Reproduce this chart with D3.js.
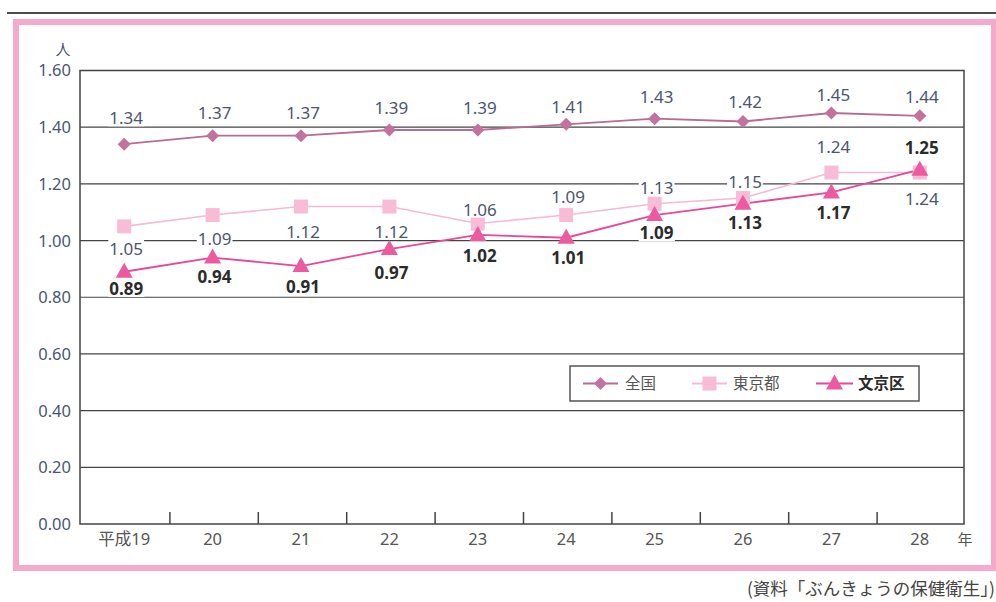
<!DOCTYPE html>
<html><head><meta charset="utf-8">
<script src="https://cdn.jsdelivr.net/npm/d3@7"></script>
<style>
html,body{margin:0;padding:0;background:#fff;}
svg{display:block;font-family:"Noto Sans","Noto Sans CJK JP",sans-serif;}
</style></head>
<body>
<svg id="c" width="996" height="602"></svg>
<script>
const categories = ["平成19","20","21","22","23","24","25","26","27","28"];
const seriesNames = ["全国","東京都","文京区"];
const zenkoku = [1.34,1.37,1.37,1.39,1.39,1.41,1.43,1.42,1.45,1.44];
const tokyo   = [1.05,1.09,1.12,1.12,1.06,1.09,1.13,1.15,1.24,1.24];
const bunkyo  = [0.89,0.94,0.91,0.97,1.02,1.01,1.09,1.13,1.17,1.25];
const yTicks  = [0,0.2,0.4,0.6,0.8,1.0,1.2,1.4,1.6];

// layout: label vertical offsets (px) relative to the point
const labelDy = {
  "全国":  [-26,-23,-23,-22,-22,-17,-22,-20,-18,-19],
  "東京都": [22,24,25,25,-14,-18,-16,-16,-26,26],
  "文京区": [17,19,21,24,21,20,18,19,21,-22]
};

const svg = d3.select("#c");
const L = 80, R = 964, T = 70.5, B = 524;

svg.append("line").attr("x1",7).attr("x2",996).attr("y1",13).attr("y2",13)
  .attr("stroke","#111").attr("stroke-width",1.5);
svg.append("rect").attr("x",16).attr("y",22).attr("width",978).attr("height",546)
  .attr("fill","none").attr("stroke","#f6aacb").attr("stroke-width",6);

const x = d3.scaleBand().domain(categories).range([L,R]).padding(0);
const y = d3.scaleLinear().domain([0,1.6]).range([B,T]);
const cx = d => x(d) + x.bandwidth()/2;

svg.append("g").selectAll("line").data(yTicks.slice(1,-1)).join("line")
  .attr("x1",L).attr("x2",R).attr("y1",d=>y(d)).attr("y2",d=>y(d))
  .attr("stroke","#444").attr("stroke-width",1.2);
svg.append("rect").attr("x",L).attr("y",T).attr("width",R-L).attr("height",B-T)
  .attr("fill","none").attr("stroke","#444").attr("stroke-width",1.5);

svg.append("g").selectAll("line").data(categories.slice(1)).join("line")
  .attr("x1",d=>x(d)+1.5).attr("x2",d=>x(d)+1.5).attr("y1",B).attr("y2",B-12)
  .attr("stroke","#444").attr("stroke-width",1.5);

const axisColor = "#4a5674";
svg.append("g").selectAll("text").data(yTicks).join("text")
  .attr("x",71).attr("y",d=>y(d)).attr("dy","0.36em").attr("text-anchor","end")
  .attr("font-size",16.5).attr("fill",axisColor).text(d=>d.toFixed(2));
svg.append("g").selectAll("text").data(categories).join("text")
  .attr("x",d=>cx(d)).attr("y",539.5).attr("dy","0.36em").attr("text-anchor","middle")
  .attr("font-size",16.5).attr("fill","#555").text(d=>d);

svg.append("text").attr("x",63).attr("y",50).attr("dy","0.36em").attr("text-anchor","middle")
  .attr("font-size",15).attr("fill",axisColor).text("人");
svg.append("text").attr("x",965).attr("y",540).attr("dy","0.36em").attr("text-anchor","middle")
  .attr("font-size",15).attr("fill","#555").text("年");
svg.append("text").attr("x",995).attr("y",589).attr("dy","0.36em").attr("text-anchor","end")
  .attr("font-family","'Noto Sans CJK JP',sans-serif")
  .attr("font-size",17.5).attr("fill","#444").text("(資料「ぶんきょうの保健衛生」)");

const series = [
  {name:"全国", values:zenkoku, line:"#b86b93", mark:"#c2729c", shape:"diamond", txt:"#4d5570", bold:false},
  {name:"東京都", values:tokyo, line:"#f7b9d4", mark:"#f8bcd7", shape:"square", txt:"#4d5570", bold:false},
  {name:"文京区", values:bunkyo, line:"#e8479a", mark:"#ec5a9f", shape:"triangle", txt:"#2b2b2b", bold:true}
];

function drawMark(g, shape, color, px, py){
  if(shape==="diamond"){
    g.append("path").attr("d",`M${px},${py-6.5}L${px+6.5},${py}L${px},${py+6.5}L${px-6.5},${py}Z`).attr("fill",color);
  } else if(shape==="square"){
    g.append("rect").attr("x",px-7).attr("y",py-7).attr("width",14).attr("height",14).attr("fill",color);
  } else {
    g.append("path").attr("d",`M${px},${py-9}L${px+8.5},${py+6}L${px-8.5},${py+6}Z`).attr("fill",color);
  }
}

const lineGen = d3.line().x(d=>cx(d.c)).y(d=>y(d.v));
series.forEach(s=>{
  const pts = s.values.map((v,i)=>({c:categories[i],v}));
  svg.append("path").datum(pts).attr("d",lineGen).attr("fill","none")
    .attr("stroke",s.line).attr("stroke-width",s.shape==="square"?1.6:1.8);
});
series.forEach(s=>{
  const g = svg.append("g");
  s.values.forEach((v,i)=>drawMark(g,s.shape,s.mark,cx(categories[i]),y(v)));
});
series.forEach(s=>{
  const g = svg.append("g");
  s.values.forEach((v,i)=>{
    const lg = g.append("g");
    const t = lg.append("text").attr("x",cx(categories[i])+2).attr("y",y(v)+labelDy[s.name][i])
      .attr("dy","0.36em").attr("text-anchor","middle").attr("font-size",17)
      .attr("font-weight",s.bold?"bold":"normal").attr("fill",s.txt).text(v.toFixed(2));
    const bb = t.node().getBBox();
    lg.insert("rect","text").attr("x",bb.x-1).attr("y",bb.y+3).attr("width",bb.width+2).attr("height",bb.height-6).attr("fill","#fff");
  });
});

const lg = svg.append("g");
lg.append("rect").attr("x",570).attr("y",366).attr("width",349).attr("height",35)
  .attr("fill","#fff").attr("stroke","#555").attr("stroke-width",1.5);
const legendX = [[583,618,625],[692,727,733],[816,853,858]];
series.forEach((s,i)=>{
  const [a,b,t] = legendX[i];
  const ly = 383.5;
  lg.append("line").attr("x1",a).attr("x2",b).attr("y1",ly).attr("y2",ly).attr("stroke",s.line).attr("stroke-width",1.8);
  drawMark(lg,s.shape,s.mark,(a+b)/2,ly);
  lg.append("text").attr("x",t).attr("y",ly).attr("dy","0.36em").attr("font-size",15.5)
    .attr("font-weight",s.bold?"bold":"normal").attr("fill",s.bold?"#2b2b2b":"#555").text(s.name);
});
</script>
</body></html>
